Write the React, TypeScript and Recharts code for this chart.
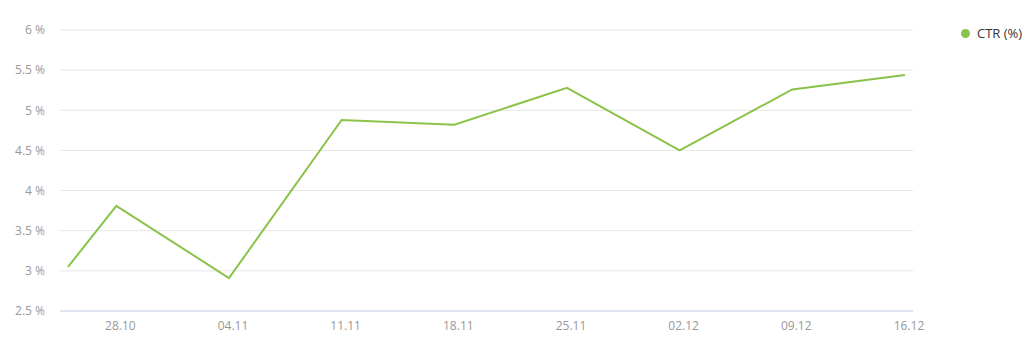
import { LineChart, Line, XAxis, YAxis, CartesianGrid } from "recharts";

const dates = ["25.10", "28.10", "04.11", "11.11", "18.11", "25.11", "02.12", "09.12", "16.12"];
const ctrValues = [3.05, 3.81, 2.91, 4.88, 4.82, 5.28, 4.5, 5.26, 5.44];
const xTickLabels = ["28.10", "04.11", "11.11", "18.11", "25.11", "02.12", "09.12", "16.12"];
const yTicks = [2.5, 3, 3.5, 4, 4.5, 5, 5.5, 6];

const COLOR = "#8bc34a";
const FONT = "'Open Sans', sans-serif";

// day offset relative to 28.10 (year doesn't matter, no leap day in range)
const dayOf = (s: string) => {
  const [d, m] = s.split(".").map(Number);
  return (Date.UTC(2019, m - 1, d) - Date.UTC(2019, 9, 28)) / 86400000;
};

const data = dates.map((d, i) => ({ day: dayOf(d), label: d, ctr: ctrValues[i] }));
const xTicks = xTickLabels.map(dayOf);
const labelByDay: Record<number, string> = {};
xTickLabels.forEach((l) => (labelByDay[dayOf(l)] = l));

export default function App() {
  return (
    <div style={{ position: "absolute", left: 0, top: 0, width: 1031, height: 356, background: "#fff" }}>
      <LineChart width={1031} height={356} data={data} margin={{ top: 30, right: 118, left: 0, bottom: 0 }}>
        <CartesianGrid vertical={false} stroke="#e6e6e6" />
        <XAxis
          dataKey="day"
          type="number"
          domain={[-3.5, 49.5]}
          ticks={xTicks}
          tickFormatter={(v) => labelByDay[v] ?? ""}
          tick={{ fontSize: 12, fill: "#999", fontFamily: FONT, dx: 4 }}
          axisLine={{ stroke: "#ccd6eb" }}
          tickLine={false}
          tickSize={0}
          tickMargin={10}
          height={45}
        />
        <YAxis
          type="number"
          domain={[2.5, 6]}
          ticks={yTicks}
          tickFormatter={(v) => `${v} %`}
          tick={{ fontSize: 12, fill: "#999", fontFamily: FONT }}
          axisLine={false}
          tickLine={false}
          tickSize={0}
          tickMargin={15}
          width={60}
        />
        <Line
          type="linear"
          dataKey="ctr"
          name="CTR (%)"
          stroke={COLOR}
          strokeWidth={2}
          dot={false}
          activeDot={false}
          isAnimationActive={false}
        />
      </LineChart>
      {/* legend sits outside the plot, top right */}
      <div
        style={{
          position: "absolute", left: 961, top: 24, display: "flex", alignItems: "center",
          fontFamily: FONT, fontSize: 13, color: "#333",
        }}
      >
        <span style={{ width: 9, height: 9, borderRadius: "50%", background: COLOR, marginRight: 7 }} />
        <span>CTR (%)</span>
      </div>
    </div>
  );
}
